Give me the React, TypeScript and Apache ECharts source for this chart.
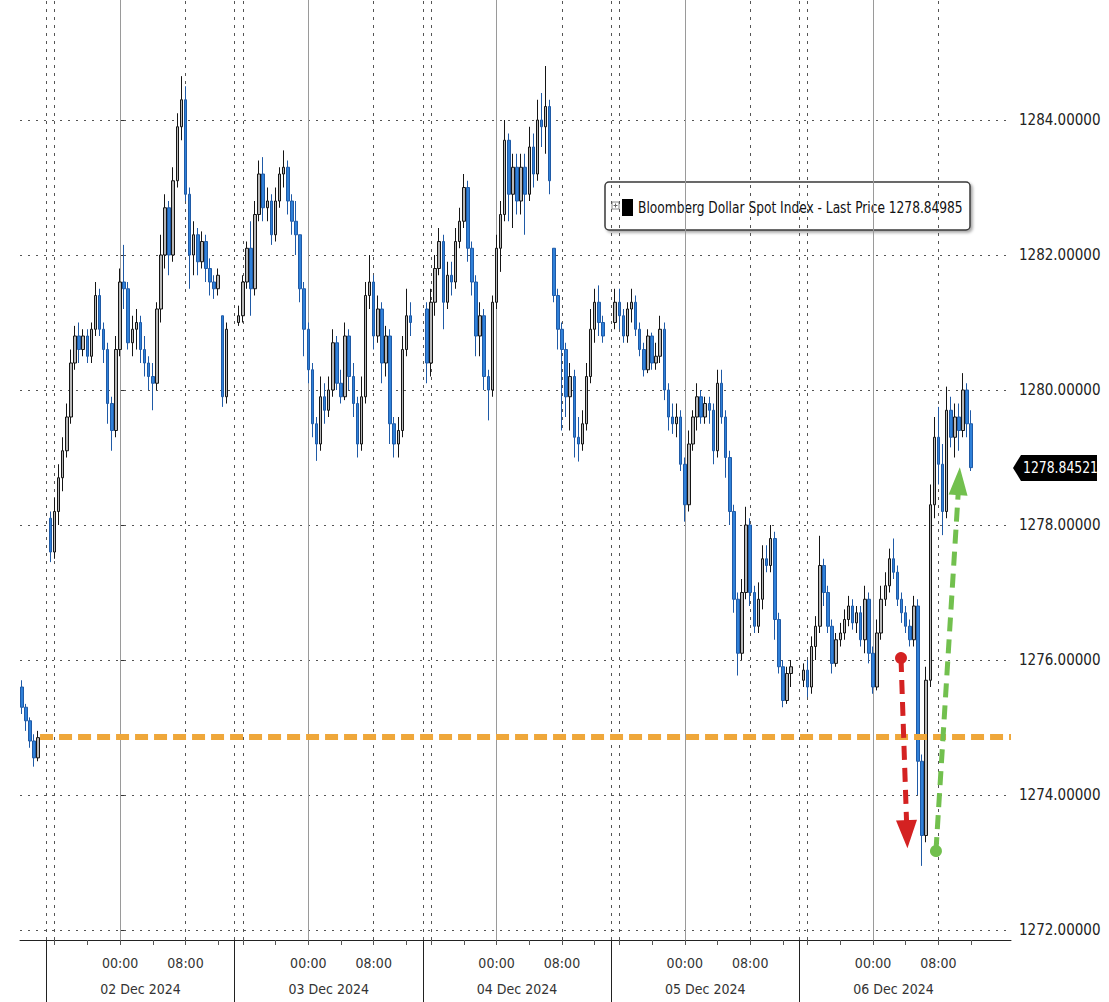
import React, { useEffect, useRef } from 'react';
import * as echarts from 'echarts';

const FONT = "'Liberation Sans Narrow', 'DejaVu Sans Condensed', 'Arial Narrow', sans-serif";

// Time unit: trading hours counted from 02 Dec 00:00 (23 trading hours per day on the axis)
// Candles: [time, open, close, low, high]
const nov29 = [
  [-12, 1275.6, 1275.3, 1275.2, 1275.7],
  [-11.5, 1275.3, 1275.1, 1274.95, 1275.35],
  [-11, 1275.1, 1274.8, 1274.7, 1275.15],
  [-10.5, 1274.8, 1274.55, 1274.42, 1274.9],
  [-10, 1274.55, 1274.85, 1274.5, 1274.95],
];

const dec02 = [
  [-8.5, 1278.1, 1277.6, 1277.45, 1278.2],
  [-8, 1277.6, 1278.2, 1277.5, 1278.4],
  [-7.5, 1278.2, 1278.7, 1278.0, 1278.9],
  [-7, 1278.7, 1279.1, 1278.5, 1279.3],
  [-6.5, 1279.1, 1279.6, 1279.0, 1279.8],
  [-6, 1279.6, 1280.4, 1279.5, 1280.6],
  [-5.5, 1280.4, 1280.8, 1280.3, 1280.95],
  [-5, 1280.8, 1280.6, 1280.4, 1281.0],
  [-4.5, 1280.6, 1280.8, 1280.5, 1280.9],
  [-4, 1280.8, 1280.5, 1280.4, 1280.9],
  [-3.5, 1280.5, 1280.9, 1280.4, 1281.0],
  [-3, 1280.9, 1281.4, 1280.8, 1281.6],
  [-2.5, 1281.4, 1280.9, 1280.8, 1281.5],
  [-2, 1280.9, 1280.6, 1280.4, 1281.0],
  [-1.5, 1280.6, 1279.8, 1279.5, 1280.7],
  [-1, 1279.8, 1279.4, 1279.1, 1279.9],
  [-0.5, 1279.4, 1280.6, 1279.3, 1280.8],
  [0, 1280.6, 1281.6, 1280.5, 1281.8],
  [0.5, 1281.6, 1281.5, 1281.2, 1282.15],
  [1, 1281.5, 1280.7, 1280.6, 1281.6],
  [1.5, 1280.7, 1280.9, 1280.5, 1281.1],
  [2, 1280.9, 1281.0, 1280.6, 1281.2],
  [2.5, 1281.0, 1280.6, 1280.4, 1281.1],
  [3, 1280.6, 1280.4, 1280.2, 1280.8],
  [3.5, 1280.4, 1280.2, 1280.0, 1280.5],
  [4, 1280.2, 1280.1, 1279.7, 1280.4],
  [4.5, 1280.1, 1281.2, 1280.0, 1281.3],
  [5, 1281.2, 1282.0, 1281.0, 1282.3],
  [5.5, 1282.0, 1282.7, 1281.8, 1282.9],
  [6, 1282.7, 1282.0, 1281.7, 1282.8],
  [6.5, 1282.0, 1283.1, 1281.9, 1283.3],
  [7, 1283.1, 1283.9, 1283.0, 1284.1],
  [7.5, 1283.9, 1284.3, 1283.7, 1284.65],
  [8, 1284.3, 1282.9, 1282.8, 1284.5],
  [8.5, 1282.9, 1282.0, 1281.5, 1283.0],
  [9, 1282.0, 1282.3, 1281.7, 1282.5],
  [9.5, 1282.3, 1281.9, 1281.7, 1282.4],
  [10, 1281.9, 1282.2, 1281.8, 1282.35],
  [10.5, 1282.2, 1281.8, 1281.6, 1282.3],
  [11, 1281.8, 1281.6, 1281.4, 1281.95],
  [11.5, 1281.6, 1281.5, 1281.35, 1281.7],
  [12, 1281.5, 1281.7, 1281.4, 1281.8],
  [12.5, 1281.1, 1279.9, 1279.75, 1281.1],
  [13, 1279.9, 1280.9, 1279.8, 1281.0],
];

const dec03 = [
  [14.5, 1281.0, 1281.1, 1280.95, 1281.25],
  [15, 1281.1, 1281.6, 1281.0, 1281.7],
  [15.5, 1281.6, 1282.1, 1281.5, 1282.2],
  [16, 1282.1, 1281.5, 1281.1, 1282.5],
  [16.5, 1281.5, 1282.6, 1281.4, 1282.8],
  [17, 1282.6, 1283.2, 1282.5, 1283.4],
  [17.5, 1283.2, 1282.7, 1282.5, 1283.45],
  [18, 1282.7, 1282.8, 1282.5, 1283.0],
  [18.5, 1282.8, 1282.3, 1282.15, 1282.9],
  [19, 1282.3, 1282.8, 1282.2, 1283.0],
  [19.5, 1282.8, 1283.2, 1282.7, 1283.3],
  [20, 1283.2, 1283.3, 1283.0, 1283.55],
  [20.5, 1283.3, 1282.8, 1282.6, 1283.4],
  [21, 1282.8, 1282.5, 1282.3, 1282.9],
  [21.5, 1282.5, 1282.3, 1282.0, 1282.8],
  [22, 1282.3, 1281.5, 1281.3, 1282.3],
  [22.5, 1281.5, 1280.9, 1280.5, 1281.6],
  [23, 1280.9, 1280.3, 1280.1, 1281.0],
  [23.5, 1280.3, 1279.5, 1279.3, 1280.4],
  [24, 1279.5, 1279.2, 1278.95, 1279.6],
  [24.5, 1279.2, 1279.9, 1279.1, 1280.2],
  [25, 1279.9, 1279.7, 1279.5, 1280.1],
  [25.5, 1279.7, 1280.0, 1279.6, 1280.2],
  [26, 1280.0, 1280.7, 1279.9, 1280.9],
  [26.5, 1280.7, 1280.1, 1280.0, 1280.8],
  [27, 1280.1, 1279.9, 1279.8, 1280.3],
  [27.5, 1279.9, 1280.8, 1279.85, 1281.0],
  [28, 1280.8, 1280.2, 1280.0, 1280.9],
  [28.5, 1280.2, 1279.8, 1279.6, 1280.4],
  [29, 1279.8, 1279.2, 1279.0, 1279.9],
  [29.5, 1279.2, 1279.9, 1279.1, 1280.2],
  [30, 1279.9, 1281.4, 1279.8, 1281.6],
  [30.5, 1281.4, 1281.6, 1281.2, 1282.0],
  [31, 1281.6, 1280.8, 1280.6, 1281.7],
  [31.5, 1280.8, 1281.2, 1280.7, 1281.4],
  [32, 1281.2, 1280.4, 1280.1, 1281.3],
  [32.5, 1280.4, 1280.8, 1280.2, 1280.95],
  [33, 1280.8, 1279.5, 1279.2, 1280.9],
  [33.5, 1279.5, 1279.2, 1279.0, 1279.6],
  [34, 1279.2, 1279.4, 1279.0, 1279.6],
  [34.5, 1279.4, 1280.6, 1279.3, 1280.8],
  [35, 1280.6, 1281.1, 1280.5, 1281.5],
  [35.5, 1281.1, 1281.0, 1280.8, 1281.3],
];

const dec04 = [
  [37.5, 1281.2, 1280.4, 1280.1, 1281.3],
  [38, 1280.4, 1281.3, 1280.2, 1281.5],
  [38.5, 1281.3, 1281.8, 1281.1, 1282.0],
  [39, 1281.8, 1282.2, 1281.7, 1282.4],
  [39.5, 1282.2, 1281.3, 1280.9, 1282.3],
  [40, 1281.3, 1281.7, 1281.2, 1281.9],
  [40.5, 1281.7, 1281.6, 1281.4, 1281.9],
  [41, 1281.6, 1282.2, 1281.5, 1282.4],
  [41.5, 1282.2, 1282.5, 1282.1, 1282.7],
  [42, 1282.5, 1283.0, 1282.4, 1283.2],
  [42.5, 1283.0, 1282.1, 1281.9, 1283.1],
  [43, 1282.1, 1281.6, 1281.4, 1282.2],
  [43.5, 1281.6, 1280.8, 1280.5, 1281.7],
  [44, 1280.8, 1281.1, 1280.5, 1281.3],
  [44.5, 1281.1, 1280.2, 1280.0, 1281.2],
  [45, 1280.2, 1280.0, 1279.55, 1280.3],
  [45.5, 1280.0, 1281.3, 1279.9, 1281.4],
  [46, 1281.3, 1282.1, 1281.2, 1282.3],
  [46.5, 1282.1, 1282.6, 1281.75, 1282.8],
  [47, 1282.6, 1283.7, 1282.5, 1284.0],
  [47.5, 1283.7, 1282.9, 1282.5, 1283.8],
  [48, 1282.9, 1283.3, 1282.4, 1283.5],
  [48.5, 1283.3, 1282.8, 1282.6, 1283.5],
  [49, 1282.8, 1283.3, 1282.6, 1283.5],
  [49.5, 1283.3, 1282.9, 1282.3, 1283.5],
  [50, 1282.9, 1283.6, 1282.8, 1283.9],
  [50.5, 1283.6, 1283.2, 1283.0, 1283.8],
  [51, 1283.2, 1284.0, 1283.1, 1284.3],
  [51.5, 1284.0, 1283.9, 1283.6, 1284.4],
  [52, 1283.9, 1284.2, 1283.5, 1284.8],
  [52.5, 1284.2, 1283.1, 1282.9, 1284.3],
  [53, 1282.1, 1281.4, 1281.3, 1282.1],
  [53.5, 1281.4, 1280.9, 1280.6, 1281.5],
  [54, 1280.9, 1280.6, 1279.4, 1281.0],
  [54.5, 1280.6, 1279.9, 1279.6, 1280.7],
  [55, 1279.9, 1280.2, 1279.4, 1280.4],
  [55.5, 1280.2, 1279.3, 1279.0, 1280.3],
  [56, 1279.3, 1279.2, 1278.94, 1279.6],
  [56.5, 1279.2, 1279.5, 1279.1, 1279.7],
  [57, 1279.5, 1280.2, 1279.4, 1280.4],
  [57.5, 1280.2, 1280.9, 1280.1, 1281.2],
  [58, 1280.9, 1281.3, 1280.7, 1281.5],
  [58.5, 1281.3, 1281.0, 1280.8, 1281.55],
  [59, 1281.0, 1280.8, 1280.7, 1281.1],
];

const dec05 = [
  [60.5, 1281.0, 1281.3, 1280.9, 1281.5],
  [61, 1281.3, 1281.1, 1280.9, 1281.5],
  [61.5, 1281.1, 1280.8, 1280.7, 1281.2],
  [62, 1280.8, 1281.2, 1280.7, 1281.3],
  [62.5, 1281.2, 1281.3, 1281.0, 1281.5],
  [63, 1281.3, 1280.9, 1280.8, 1281.4],
  [63.5, 1280.9, 1280.6, 1280.5, 1281.0],
  [64, 1280.6, 1280.3, 1280.2, 1280.7],
  [64.5, 1280.3, 1280.8, 1280.25, 1280.9],
  [65, 1280.8, 1280.4, 1280.3, 1280.85],
  [65.5, 1280.4, 1280.5, 1280.3, 1280.7],
  [66, 1280.5, 1280.9, 1280.4, 1281.1],
  [66.5, 1280.9, 1280.0, 1279.85, 1281.0],
  [67, 1280.0, 1279.6, 1279.4, 1280.1],
  [67.5, 1279.6, 1279.5, 1279.35, 1279.8],
  [68, 1279.5, 1279.6, 1279.3, 1279.8],
  [68.5, 1279.6, 1278.9, 1278.8, 1279.7],
  [69, 1278.9, 1278.3, 1278.05, 1279.0],
  [69.5, 1278.3, 1279.2, 1278.2, 1279.4],
  [70, 1279.2, 1279.6, 1279.1, 1279.7],
  [70.5, 1279.6, 1279.9, 1279.4, 1280.1],
  [71, 1279.9, 1279.6, 1279.5, 1280.0],
  [71.5, 1279.6, 1279.8, 1279.5, 1279.9],
  [72, 1279.8, 1279.7, 1279.5, 1279.9],
  [72.5, 1279.7, 1279.1, 1278.9, 1279.8],
  [73, 1279.1, 1280.1, 1279.0, 1280.3],
  [73.5, 1280.1, 1279.6, 1279.5, 1280.3],
  [74, 1279.6, 1279.0, 1278.7, 1279.7],
  [74.5, 1279.0, 1278.2, 1278.0, 1279.1],
  [75, 1278.2, 1276.9, 1276.7, 1278.3],
  [75.5, 1276.9, 1276.1, 1275.77, 1277.0],
  [76, 1276.1, 1277.0, 1276.0, 1277.2],
  [76.5, 1277.0, 1278.0, 1276.9, 1278.27],
  [77, 1278.0, 1277.0, 1276.8, 1278.1],
  [77.5, 1277.0, 1276.5, 1276.4, 1277.1],
  [78, 1276.5, 1276.9, 1276.4, 1277.15],
  [78.5, 1276.9, 1277.5, 1276.75, 1277.7],
  [79, 1277.5, 1277.4, 1277.3, 1277.7],
  [79.5, 1277.4, 1277.8, 1277.3, 1278.0],
  [80, 1277.8, 1276.6, 1276.3, 1277.9],
  [80.5, 1276.6, 1275.9, 1275.8, 1276.7],
  [81, 1275.9, 1275.4, 1275.3, 1276.0],
  [81.5, 1275.4, 1275.8, 1275.35, 1275.9],
  [82, 1275.8, 1275.9, 1275.6, 1276.0],
];

const dec06 = [
  [83.5, 1275.7, 1275.85, 1275.6, 1275.95],
  [84, 1275.85, 1275.6, 1275.45, 1276.0],
  [84.5, 1275.6, 1276.2, 1275.5, 1276.35],
  [85, 1276.2, 1276.5, 1276.0, 1276.65],
  [85.5, 1276.5, 1277.4, 1276.4, 1277.84],
  [86, 1277.4, 1277.0, 1276.8, 1277.5],
  [86.5, 1277.0, 1276.5, 1276.4, 1277.1],
  [87, 1276.5, 1275.95, 1275.8, 1276.6],
  [87.5, 1275.95, 1276.3, 1275.9, 1276.4],
  [88, 1276.3, 1276.4, 1276.2, 1276.55],
  [88.5, 1276.4, 1276.6, 1276.3, 1276.75],
  [89, 1276.6, 1276.8, 1276.5, 1276.95],
  [89.5, 1276.8, 1276.55, 1276.45, 1276.9],
  [90, 1276.55, 1276.7, 1276.4, 1276.8],
  [90.5, 1276.7, 1276.3, 1276.2, 1276.8],
  [91, 1276.3, 1276.9, 1276.1, 1277.1],
  [91.5, 1276.9, 1276.1, 1275.95, 1277.0],
  [92, 1276.1, 1275.6, 1275.5, 1276.2],
  [92.5, 1275.6, 1276.4, 1275.55, 1276.6],
  [93, 1276.4, 1276.9, 1276.3, 1277.1],
  [93.5, 1276.9, 1277.1, 1276.8, 1277.3],
  [94, 1277.1, 1277.5, 1277.0, 1277.65],
  [94.5, 1277.5, 1277.3, 1277.2, 1277.8],
  [95, 1277.3, 1276.9, 1276.8, 1277.4],
  [95.5, 1276.9, 1276.7, 1276.55, 1277.0],
  [96, 1276.7, 1276.5, 1276.4, 1276.8],
  [96.5, 1276.5, 1276.3, 1276.2, 1276.6],
  [97, 1276.3, 1276.8, 1276.2, 1276.95],
  [97.5, 1276.8, 1274.5, 1274.0, 1276.9],
  [98, 1274.5, 1273.4, 1272.95, 1274.6],
  [98.5, 1273.4, 1275.7, 1273.3, 1275.9],
  [99, 1275.7, 1278.3, 1275.6, 1278.6],
  [99.5, 1278.3, 1279.3, 1278.1, 1279.6],
  [100, 1279.3, 1278.9, 1278.6, 1279.75],
  [100.5, 1278.9, 1278.2, 1277.85, 1279.2],
  [101, 1278.2, 1279.7, 1278.1, 1280.05],
  [101.5, 1279.7, 1279.3, 1279.15, 1279.9],
  [102, 1279.3, 1279.6, 1279.0, 1279.8],
  [102.5, 1279.6, 1279.4, 1279.1, 1279.8],
  [103, 1279.4, 1280.0, 1279.3, 1280.25],
  [103.5, 1280.0, 1279.5, 1279.3, 1280.1],
  [104, 1279.5, 1278.85, 1278.8, 1279.7],
];

const timeTickValues = [0, 8, 23, 31, 46, 54, 69, 77, 92, 100];
const timeTickLabels = ['00:00', '08:00', '00:00', '08:00', '00:00', '08:00', '00:00', '08:00', '00:00', '08:00'];
const midnightLines = [0, 23, 46, 69, 92];
const morningLines = [8, 31, 54, 77, 100];
const daySeparators = [-9, 14, 37, 60, 83];
const sessionLines = [-8, 15, 38, 61, 84];
const minorTicks = [-8, -4, 0, 4, 8, 12, 15, 19, 23, 27, 31, 35, 38, 42, 46, 50, 54, 58, 61, 65, 69, 73, 77, 81, 84, 88, 92, 96, 100, 104];
const dateCenters = [2.5, 25.5, 48.5, 71.5, 94.5];
const dateLabels = ['02 Dec 2024', '03 Dec 2024', '04 Dec 2024', '05 Dec 2024', '06 Dec 2024'];
const priceTicks = [1272, 1274, 1276, 1278, 1280, 1282, 1284];

const seriesName = 'Bloomberg Dollar Spot Index - Last Price';
const legendPrice = 1278.84985;
const lastPrice = 1278.84521;
const refLevel = 1274.87;
const refStart = -9.77;
const dropArrow = [[95.42, 1276.03], [96.15, 1273.42]];
const riseArrow = [[99.69, 1273.17], [102.5, 1278.65]];

const X_MIN = -12.22;
const X_MAX = 108.86;
const Y_MIN = 1271.852;
const Y_MAX = 1285.778;

function lookup(values: number[], labels: string[], v: number) {
  for (let i = 0; i < values.length; i++) {
    if (Math.abs(values[i] - v) < 1e-6) return labels[i];
  }
  return '';
}

export default function App() {
  const ref = useRef<HTMLDivElement>(null);

  useEffect(() => {
    if (!ref.current) return;
    const chart = echarts.init(ref.current, null, { renderer: 'svg' });
    const candles = [...nov29, ...dec02, ...dec03, ...dec04, ...dec05, ...dec06];

    const dotted = { color: '#555', type: [2, 6] as any, width: 1 };
    const dashedV = { color: '#555', type: [3, 5] as any, width: 1 };

    const gridLines: any[] = [
      ...priceTicks.map((v) => ({ yAxis: v, lineStyle: dotted })),
      ...midnightLines.map((h) => ({ xAxis: h, lineStyle: { color: '#9a9a9a', type: 'solid', width: 1 } })),
      ...morningLines.map((h) => ({ xAxis: h, lineStyle: dashedV })),
      ...daySeparators.map((h) => ({ xAxis: h, lineStyle: dashedV })),
      ...sessionLines.map((h) => ({ xAxis: h, lineStyle: dashedV })),
    ];

    const annColors = ['#efa73a', '#d42222', '#72c04e'];
    const annPairs: any[] = [
      [
        { coord: [refStart, refLevel], symbol: 'none' },
        { coord: [X_MAX, refLevel], symbol: 'none' },
      ],
      [
        { coord: dropArrow[0], symbol: 'circle', symbolSize: 12 },
        { coord: dropArrow[1], symbol: 'triangle', symbolSize: [21, 28] },
      ],
      [
        { coord: riseArrow[0], symbol: 'circle', symbolSize: 12 },
        { coord: riseArrow[1], symbol: 'triangle', symbolSize: [19, 28] },
      ],
    ];

    chart.setOption({
      animation: false,
      backgroundColor: '#ffffff',
      grid: { left: 20, right: 98, top: 0, bottom: 62, containLabel: false, outerBoundsMode: 'none' } as any,
      xAxis: [
        {
          type: 'value',
          position: 'bottom',
          min: X_MIN,
          max: X_MAX,
          axisLine: { show: true, lineStyle: { color: '#222', width: 1 } },
          axisTick: { show: true, customValues: minorTicks, length: 5, lineStyle: { color: '#555' } },
          axisLabel: {
            show: true,
            customValues: timeTickValues,
            formatter: (v: number) => lookup(timeTickValues, timeTickLabels, v),
            margin: 16,
            color: '#333',
            fontSize: 14,
            fontFamily: FONT,
          },
          splitLine: { show: false },
        },
        {
          type: 'value',
          position: 'bottom',
          min: X_MIN,
          max: X_MAX,
          axisLine: { show: false },
          axisTick: { show: true, customValues: daySeparators, length: 62, lineStyle: { color: '#222', width: 1 } },
          axisLabel: {
            show: true,
            customValues: dateCenters,
            formatter: (v: number) => lookup(dateCenters, dateLabels, v),
            margin: 42,
            color: '#333',
            fontSize: 14,
            fontFamily: FONT,
          },
          splitLine: { show: false },
        },
      ],
      yAxis: {
        type: 'value',
        position: 'right',
        min: Y_MIN,
        max: Y_MAX,
        axisLine: { show: true, lineStyle: { color: '#222', width: 1 } },
        axisTick: { show: true, customValues: priceTicks, length: 4, lineStyle: { color: '#333' } },
        axisLabel: {
          show: true,
          customValues: priceTicks,
          formatter: (v: number) => v.toFixed(5),
          margin: 8,
          color: '#222',
          fontSize: 15,
          fontFamily: FONT,
        },
        splitLine: { show: false },
      },
      series: [
        {
          type: 'line',
          data: [],
          silent: true,
          z: 1,
          markLine: {
            silent: true,
            symbol: 'none',
            z: 1,
            label: { show: false },
            data: gridLines,
          },
        },
        {
          type: 'candlestick',
          name: seriesName,
          data: candles,
          z: 2,
          barWidth: 3,
          itemStyle: {
            color: '#b8b8b8',
            color0: '#2f80d8',
            borderColor: '#151515',
            borderColor0: '#1f5aa6',
            borderWidth: 1,
          },
        },
        {
          type: 'line',
          data: [],
          silent: true,
          z: 3,
          markLine: {
            silent: true,
            z: 6,
            label: { show: false },
            data: annPairs.map((pair, i) => {
              const style = i === 0
                ? { color: annColors[i], width: 6, type: [13, 6] }
                : { color: annColors[i], width: 5, type: [14, 8] };
              return [
                { ...pair[0], lineStyle: style, itemStyle: { color: annColors[i] } },
                { ...pair[1], itemStyle: { color: annColors[i] } },
              ];
            }),
          },
        },
      ],
    } as any);

    const yTag = chart.convertToPixel({ yAxisIndex: 0 }, lastPrice) as number;
    const xRight = chart.convertToPixel({ xAxisIndex: 0 }, X_MAX) as number;
    const tipX = xRight + 2;

    chart.setOption({
      graphic: [
        {
          type: 'group',
          z: 100,
          children: [
            {
              type: 'rect',
              shape: { x: 605, y: 182, width: 365, height: 48, r: 4 },
              style: {
                fill: '#ffffff',
                stroke: '#3a3a3a',
                lineWidth: 1.5,
                shadowBlur: 3,
                shadowOffsetX: 2,
                shadowOffsetY: 2,
                shadowColor: 'rgba(0,0,0,0.35)',
              },
            },
            {
              type: 'rect',
              shape: { x: 612, y: 202, width: 7, height: 7 },
              style: { fill: '#fff', stroke: '#888', lineWidth: 1 },
            },
            {
              type: 'line',
              shape: { x1: 613.5, y1: 205.5, x2: 617.5, y2: 205.5 },
              style: { stroke: '#666', lineWidth: 1 },
            },
            {
              type: 'line',
              shape: { x1: 615.5, y1: 203.5, x2: 615.5, y2: 207.5 },
              style: { stroke: '#666', lineWidth: 1 },
            },
            {
              type: 'rect',
              shape: { x: 622, y: 199, width: 11, height: 17 },
              style: { fill: '#000' },
            },
            {
              type: 'text',
              x: 638,
              y: 207,
              scaleX: 0.85,
              style: {
                text: `${seriesName} ${legendPrice.toFixed(5)}`,
                fill: '#111',
                font: `16px ${FONT}`,
                verticalAlign: 'middle',
                align: 'left',
              },
            },
          ],
        },
        {
          type: 'group',
          z: 100,
          children: [
            {
              type: 'polygon',
              shape: {
                points: [
                  [tipX, yTag],
                  [tipX + 8, yTag - 13],
                  [tipX + 84, yTag - 13],
                  [tipX + 84, yTag + 13],
                  [tipX + 8, yTag + 13],
                ],
              },
              style: { fill: '#000' },
            },
            {
              type: 'text',
              x: tipX + 10,
              y: yTag,
              scaleX: 0.92,
              style: {
                text: lastPrice.toFixed(5),
                fill: '#fff',
                font: `15px ${FONT}`,
                verticalAlign: 'middle',
                align: 'left',
              },
            },
          ],
        },
      ],
    } as any);

    return () => {
      chart.dispose();
    };
  }, []);

  return (
    <div
      ref={ref}
      style={{ position: 'fixed', left: 0, top: 0, width: 1109, height: 1002, background: '#fff' }}
    />
  );
}
